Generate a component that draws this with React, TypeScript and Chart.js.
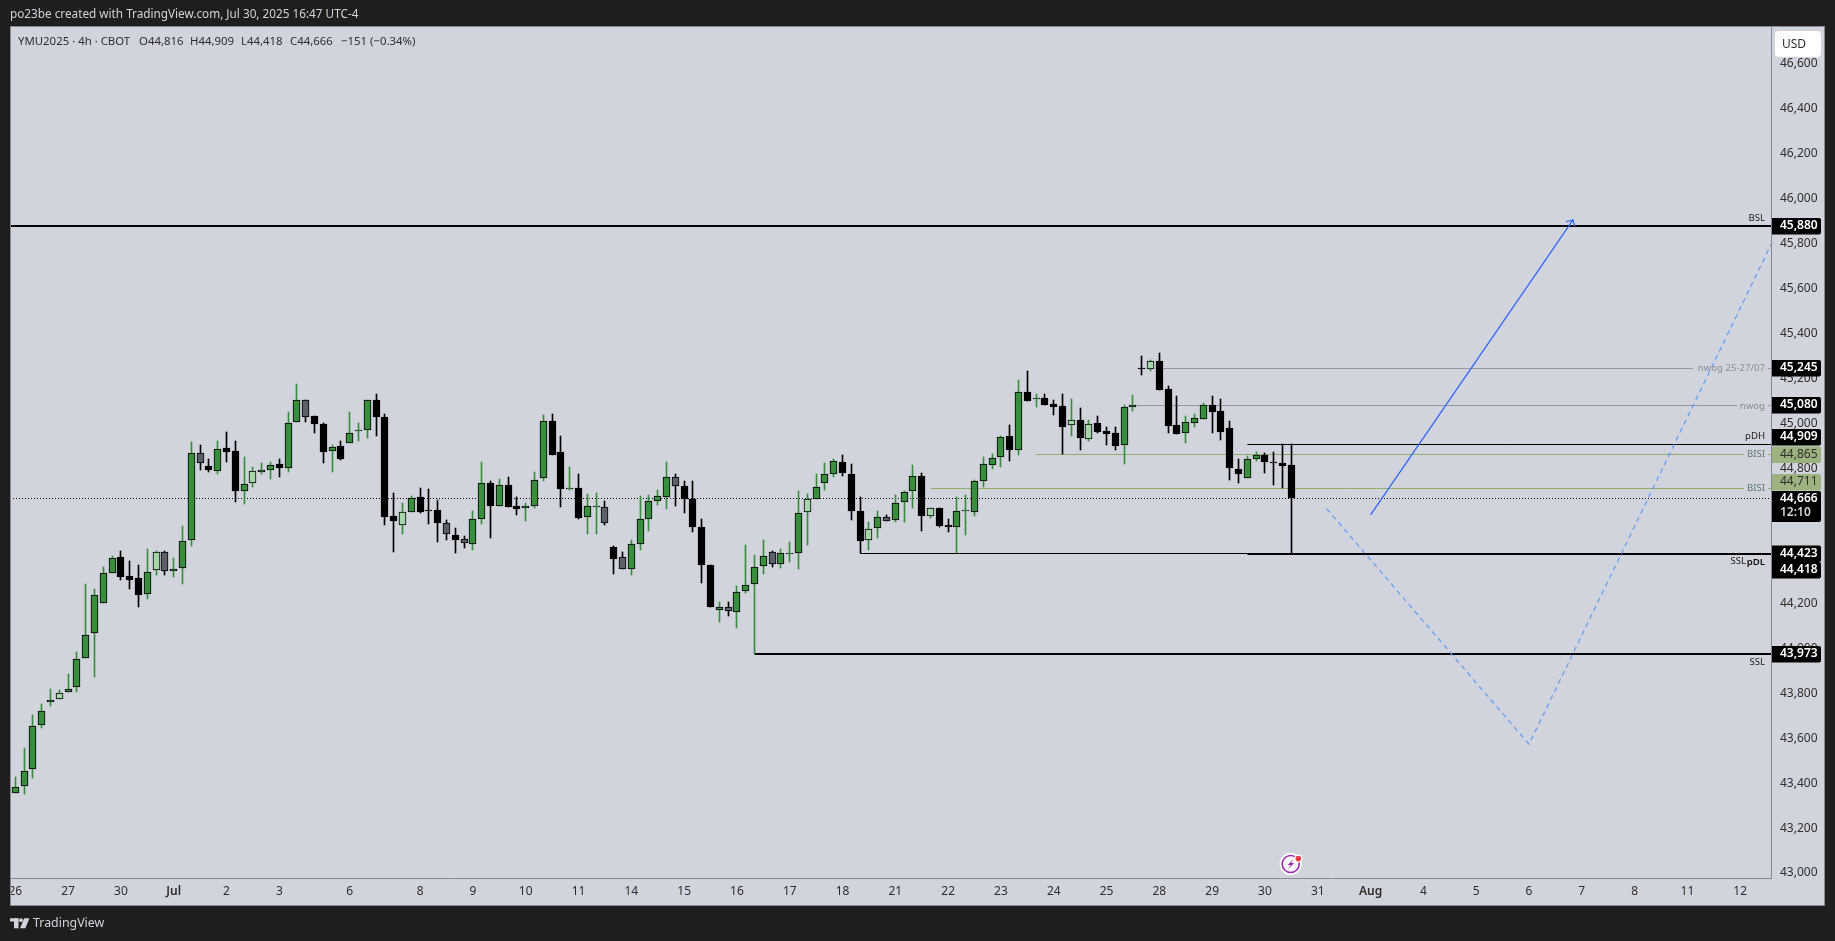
import React, { useEffect, useRef } from "react";
import { Chart, registerables } from "chart.js";

Chart.register(...registerables);

const highs = [
  43426,43555,43701,43750,43817,43814,43884,43982,44284,44262,
  44360,44410,44432,44388,44370,44440,44431,44431,44400,44542,
  44916,44902,44840,44920,44960,44920,44849,44805,44822,44827,
  44840,45049,45174,45106,45031,45000,44902,44920,45049,45000,
  45106,45129,45040,44689,44644,44676,44711,44707,44658,44569,
  44533,44498,44609,44827,44742,44751,44760,44671,44644,44782,
  45036,45040,44942,44805,44773,44684,44689,44653,44453,44426,
  44480,44675,44680,44702,44827,44773,44742,44742,44573,44369,
  44204,44204,44275,44458,44413,44480,44431,44440,44471,44698,
  44684,44773,44822,44840,44858,44818,44671,44560,44609,44591,
  44680,44698,44813,44778,44622,44622,44573,44671,44680,44747,
  44849,44862,44942,44991,45192,45232,45129,45129,45103,45129,
  45107,45067,45014,45031,44982,44982,45080,45125,45298,45280,
  45312,45165,45120,45031,45040,45089,45120,45107,45009,44840,
  44853,44871,44867,44871,44909,44909,
];
const bodyTops = [
  43384,43455,43655,43722,43771,43802,43820,43953,44060,44238,
  44336,44403,44404,44320,44311,44340,44426,44426,44354,44478,
  44870,44870,44809,44888,44889,44876,44732,44790,44791,44816,
  44818,45000,45106,45106,45031,44996,44896,44898,44959,44971,
  45106,45106,45027,44587,44607,44670,44671,44615,44613,44555,
  44502,44484,44573,44733,44733,44727,44724,44631,44634,44750,
  45009,45009,44871,44711,44711,44631,44631,44627,44449,44404,
  44462,44573,44653,44675,44760,44760,44720,44662,44538,44369,
  44185,44185,44251,44283,44363,44412,44429,44422,44422,44600,
  44662,44718,44773,44831,44827,44773,44609,44529,44582,44582,
  44644,44693,44765,44765,44622,44622,44547,44609,44613,44742,
  44818,44845,44938,44942,45138,45138,45112,45112,45085,45076,
  45014,45014,44996,45000,44965,44956,45071,45080,45245,45276,
  45276,45152,44991,45005,45022,45080,45080,45054,44978,44796,
  44840,44858,44858,44827,44822,44816,
];
const bodyBottoms = [
  43354,43385,43461,43657,43759,43772,43804,43826,43955,44066,
  44200,44333,44318,44305,44238,44240,44346,44342,44342,44355,
  44480,44822,44791,44787,44874,44701,44698,44733,44782,44791,
  44800,44800,45005,45027,44996,44874,44876,44843,44911,44965,
  44969,45030,44585,44567,44547,44607,44607,44612,44558,44506,
  44483,44466,44462,44573,44634,44631,44627,44621,44622,44631,
  44756,44861,44707,44710,44581,44582,44630,44555,44398,44351,
  44351,44462,44573,44653,44671,44720,44662,44538,44369,44185,
  44168,44164,44159,44253,44284,44364,44373,44373,44420,44422,
  44604,44662,44733,44773,44778,44609,44475,44480,44533,44564,
  44569,44649,44698,44590,44590,44545,44541,44541,44612,44607,
  44742,44813,44849,44883,44880,45101,45110,45083,45074,44985,
  44991,44937,44932,44963,44954,44901,44902,45071,45243,45240,
  45150,44990,44954,44956,45000,45018,45052,44963,44800,44773,
  44756,44840,44827,44825,44812,44666,
];
const lows = [
  43354,43353,43424,43646,43744,43772,43804,43807,43955,43873,
  44200,44333,44305,44265,44185,44220,44327,44327,44318,44287,
  44456,44794,44785,44776,44830,44652,44643,44719,44773,44754,
  44763,44785,45005,45008,44959,44825,44785,44839,44911,44923,
  44937,44945,44550,44429,44510,44607,44603,44554,44474,44483,
  44425,44447,44438,44554,44492,44631,44627,44594,44567,44625,
  44745,44861,44630,44704,44576,44509,44509,44549,44331,44351,
  44327,44438,44523,44638,44621,44634,44603,44518,44292,44185,
  44118,44145,44091,44244,43974,44331,44363,44358,44385,44354,
  44460,44662,44705,44763,44767,44572,44422,44438,44492,44564,
  44563,44563,44625,44523,44581,44541,44518,44422,44505,44590,
  44719,44799,44808,44834,44861,45101,45074,45083,45039,44865,
  44945,44883,44923,44959,44905,44883,44821,45057,45214,45232,
  45147,44959,44954,44914,44985,45018,44959,44928,44747,44736,
  44756,44834,44781,44728,44714,44418,
];
const kinds = (
  "GGGGGLGGGG" + "GGBBBGLNGG" + "GNBGBBGLGG" + "BGGNBBGBGG" + "GBBBLGBBBN" +
  "BNGGBGBBGG" + "GBBGBGGNBN" + "GGGGGNBBBB" + "GNGGGGNGGG" + "LGGGBBBLGN" +
  "GGGBLBBGGG" + "GGGBGBGBBB" + "LBLBBBGGBL" + "BBBGGGBBBB" + "GGBBBB"
).split("");

const dayIndexes = [0,6,12,18,24,30,38,46,52,58,64,70,76,82,88,94,100,106,112,118,124,130,136,142,148,154,160,166,172,178,184,190,196];
const dayLabels = ["26","27","30","Jul","2","3","6","8","9","10","11","14","15","16","17","18","21","22","23","24","25","28","29","30","31","Aug","4","5","6","7","8","11","12"];
const priceTicks = [43000,43200,43400,43600,43800,44000,44200,44400,44600,44800,45000,45200,45400,45600,45800,46000,46200,46400,46600];

const xMin = -0.602;
const xMax = 199.5;

const levelBSL = 45880;
const levelSSLHigh = 44423;
const levelPDL = 44418;
const levelSSLLow = 43973;
const levelPDH = 44909;
const levelBISIUpper = 44865;
const levelBISILower = 44711;
const levelNwogWeek = 45245;
const levelNwog = 45080;
const lastClose = 44666;

const arrowX = [154, 177];
const arrowY = [44593, 45905];
const arrowHeadX = [176.2, 177, 177.2];
const arrowHeadY = [45897, 45905, 45875];
const pathX = [149, 172, 199.6];
const pathY = [44621, 43573, 45803];

const FONT = '"Noto Sans", sans-serif';
const DARK = "#1e1e1e";
const PANEL = "#d1d4dc";
const FRAME = "#868993";
const GREEN = "#388e3c";
const LIGHT = "#a5d6a7";
const SLATE = "#5d606b";
const LEVEL_GREEN = "#8fae6e";
const LEVEL_GREY = "#9598a1";

const fill: Record<string, string> = { G: GREEN, L: LIGHT, N: SLATE, B: "#000000" };
const wick: Record<string, string> = { G: GREEN, L: GREEN, N: "#000000", B: "#000000" };

const level = (from: number, value: number, color: string, width: number, dash: number[] = []) => ({
  type: "line",
  data: [{ x: from, y: value }, { x: xMax, y: value }],
  borderColor: color,
  borderWidth: width,
  borderDash: dash,
  pointRadius: 0,
  order: 5,
  snapLine: true,
});

const pathLine = (xs: number[], ys: number[], color: string, width: number, dash: number[] = []) => ({
  type: "line",
  data: xs.map((x, i) => ({ x, y: ys[i] })),
  borderColor: color,
  borderWidth: width,
  borderDash: dash,
  pointRadius: 0,
  order: 0,
});

const snapPlugin = {
  id: "snap",
  afterDatasetsUpdate(chart: any) {
    chart.data.datasets.forEach((ds: any, i: number) => {
      const meta = chart.getDatasetMeta(i);
      if (meta.type === "bar") {
        meta.data.forEach((el: any) => {
          el.x = Math.floor(el.x) + 0.5;
          el.y = Math.round(el.y);
          el.base = Math.round(el.base);
          if (el.y === el.base) el.base = el.y + 1;
        });
      } else if (ds.snapLine) {
        meta.data.forEach((pt: any) => {
          pt.y = ds.borderWidth === 2 ? Math.round(pt.y) : Math.round(pt.y) + 0.5;
        });
      }
    });
  },
};

const rightRounded = (ctx: CanvasRenderingContext2D, x: number, y: number, w: number, h: number, r: number) => {
  ctx.beginPath();
  ctx.moveTo(x, y);
  ctx.lineTo(x + w - r, y);
  ctx.quadraticCurveTo(x + w, y, x + w, y + r);
  ctx.lineTo(x + w, y + h - r);
  ctx.quadraticCurveTo(x + w, y + h, x + w - r, y + h);
  ctx.lineTo(x, y + h);
  ctx.closePath();
  ctx.fill();
};

const panelPlugin = {
  id: "panel",
  beforeDraw(chart: any) {
    const { ctx, width, height } = chart;
    ctx.save();
    ctx.fillStyle = DARK;
    ctx.fillRect(0, 0, width, height);
    ctx.fillStyle = PANEL;
    ctx.fillRect(10, 27, 1815, 879);
    ctx.restore();
  },
  afterDraw(chart: any) {
    const { ctx } = chart;
    const y = chart.scales.y;
    const py = (v: number) => Math.round(y.getPixelForValue(v));
    ctx.save();

    ctx.fillStyle = DARK;
    ctx.fillRect(0, 27, 10, 879);
    ctx.strokeStyle = FRAME;
    ctx.lineWidth = 1;
    ctx.strokeRect(10.5, 26.5, 1814, 879);

    ctx.textBaseline = "middle";
    ctx.textAlign = "left";

    ctx.font = `11.75px ${FONT}`;
    ctx.fillStyle = PANEL;
    ctx.fillText("po23be created with TradingView.com, Jul 30, 2025 16:47 UTC-4", 10, 15);

    ctx.font = `11.4px ${FONT}`;
    ctx.fillStyle = "#2e2e2e";
    ctx.fillText("YMU2025 · 4h · CBOT", 18, 41.5);
    ctx.fillText("O44,816", 139, 41.5);
    ctx.fillText("H44,909", 190, 41.5);
    ctx.fillText("L44,418", 241, 41.5);
    ctx.fillText("C44,666", 290, 41.5);
    ctx.fillText("−151 (−0.34%)", 341, 41.5);

    const gap = (value: number, fromX: number) => {
      const ly = py(value);
      ctx.fillStyle = PANEL;
      ctx.fillRect(fromX, ly - 1, 1768 - fromX, 3);
    };
    gap(levelBISIUpper, 1744);
    gap(levelBISILower, 1744);
    gap(levelNwog, 1737);
    gap(levelNwogWeek, 1693);

    const tag = (label: string, color: string, right: number, ly: number, bold = false) => {
      ctx.font = `${bold ? "600 " : ""}9.6px ${FONT}`;
      ctx.fillStyle = color;
      ctx.textAlign = "right";
      ctx.fillText(label, right, ly);
    };
    tag("BSL", "#222222", 1765, 218);
    tag("nwog 25-27/07", "#8a8d99", 1765, 368);
    tag("nwog", "#8a8d99", 1765, 406);
    tag("pDH", "#222222", 1765, 436);
    tag("BISI", "#5b7a78", 1765, 454);
    tag("BISI", "#5b7a78", 1765, 488);
    tag("SSL", "#222222", 1746, 561.5);
    tag("pDL", "#111111", 1765, 562.5, true);
    tag("SSL", "#222222", 1765, 662.5);

    const priceTag = (value: number, center: number, bg: string, fg: string) => {
      ctx.fillStyle = bg;
      rightRounded(ctx, 1772, center - 8, 49, 16.5, 2);
      ctx.font = `600 12px ${FONT}`;
      ctx.fillStyle = fg;
      ctx.textAlign = "left";
      ctx.fillText(value.toLocaleString("en-US"), 1780, center);
    };
    priceTag(levelBSL, py(levelBSL), "#000000", "#ffffff");
    priceTag(levelNwogWeek, py(levelNwogWeek), "#000000", "#ffffff");
    priceTag(levelNwog, py(levelNwog), "#000000", "#ffffff");
    priceTag(levelPDH, 437, "#000000", "#ffffff");
    ctx.fillStyle = "#9db37f";
    rightRounded(ctx, 1772, 446.5, 49, 16.5, 2);
    rightRounded(ctx, 1772, 474, 49, 16.5, 2);
    ctx.font = `12px ${FONT}`;
    ctx.fillStyle = "#2e2e2e";
    ctx.textAlign = "left";
    ctx.fillText(levelBISIUpper.toLocaleString("en-US"), 1780, 454.5);
    ctx.fillText(levelBISILower.toLocaleString("en-US"), 1780, 482);

    ctx.fillStyle = "#000000";
    rightRounded(ctx, 1772, 491, 49, 31, 2);
    ctx.font = `600 12px ${FONT}`;
    ctx.fillStyle = "#ffffff";
    ctx.fillText(lastClose.toLocaleString("en-US"), 1780, 498.7);
    ctx.fillStyle = PANEL;
    ctx.fillText("12:10", 1780, 512.7);

    priceTag(levelSSLHigh, 553.5, "#000000", "#ffffff");
    priceTag(levelPDL, 570, "#000000", "#ffffff");
    priceTag(levelSSLLow, py(levelSSLLow), "#000000", "#ffffff");

    ctx.fillStyle = "#ffffff";
    ctx.beginPath();
    ctx.roundRect(1775, 31, 46, 26, 4);
    ctx.fill();
    ctx.font = `12px ${FONT}`;
    ctx.fillStyle = "#2e2e2e";
    ctx.textAlign = "center";
    ctx.fillText("USD", 1794, 44.5);

    const cx = 1290.7;
    const cy = 864;
    ctx.fillStyle = "#ffffff";
    ctx.beginPath();
    ctx.arc(cx, cy, 11, 0, Math.PI * 2);
    ctx.fill();
    ctx.strokeStyle = "#9c27b0";
    ctx.lineWidth = 1.6;
    ctx.beginPath();
    ctx.arc(cx, cy, 8.5, 0, Math.PI * 2);
    ctx.stroke();
    ctx.fillStyle = "#9c27b0";
    ctx.beginPath();
    ctx.moveTo(cx + 3, cy - 5);
    ctx.lineTo(cx - 3, cy + 1);
    ctx.lineTo(cx, cy + 1);
    ctx.lineTo(cx - 3, cy + 5.5);
    ctx.lineTo(cx + 3.5, cy - 1);
    ctx.lineTo(cx + 0.5, cy - 1);
    ctx.closePath();
    ctx.fill();
    ctx.fillStyle = "#ffffff";
    ctx.beginPath();
    ctx.arc(cx + 7.6, cy - 5.4, 4, 0, Math.PI * 2);
    ctx.fill();
    ctx.fillStyle = "#f23645";
    ctx.beginPath();
    ctx.arc(cx + 7.6, cy - 5.4, 2.8, 0, Math.PI * 2);
    ctx.fill();

    ctx.fillStyle = PANEL;
    ctx.fillRect(10, 918.3, 8.5, 3.2);
    ctx.fillRect(14, 918.3, 4.5, 10);
    ctx.beginPath();
    ctx.arc(21, 920.2, 1.9, 0, Math.PI * 2);
    ctx.fill();
    ctx.beginPath();
    ctx.moveTo(24.2, 918.3);
    ctx.lineTo(29.4, 918.3);
    ctx.lineTo(25.4, 928.3);
    ctx.lineTo(20, 928.3);
    ctx.closePath();
    ctx.fill();
    ctx.font = `12.4px ${FONT}`;
    ctx.textAlign = "left";
    ctx.fillText("TradingView", 33, 923);

    ctx.restore();
  },
};

export default function App() {
  const ref = useRef<HTMLCanvasElement | null>(null);

  useEffect(() => {
    if (!ref.current) return;
    const bars = kinds.map((_, i) => i);
    const chart = new Chart(ref.current, {
      type: "bar",
      data: {
        datasets: [
          {
            type: "bar",
            data: bars.map((i) => ({ x: i, y: [lows[i], highs[i]] })),
            backgroundColor: kinds.map((k) => wick[k]),
            borderWidth: 0,
            barThickness: 1,
            grouped: false,
            order: 3,
          },
          {
            type: "bar",
            data: bars.map((i) => ({ x: i, y: [bodyBottoms[i], bodyTops[i]] })),
            backgroundColor: kinds.map((k) => fill[k]),
            borderColor: "#000000",
            borderWidth: 1,
            borderSkipped: false,
            barThickness: 7,
            grouped: false,
            order: 2,
          },
          level(xMin, levelBSL, "#000000", 2),
          level(96, levelSSLHigh, "#000000", 1),
          level(140, levelPDL, "#000000", 2),
          level(84, levelSSLLow, "#000000", 2),
          level(140, levelPDH, "#000000", 1),
          level(116, levelBISIUpper, LEVEL_GREEN, 1),
          level(104, levelBISILower, LEVEL_GREEN, 1),
          level(130, levelNwogWeek, LEVEL_GREY, 1),
          level(127, levelNwog, LEVEL_GREY, 1),
          level(xMin, lastClose, "#000000", 1, [1, 2]),
          pathLine(arrowX, arrowY, "#2962ff", 1.2),
          pathLine(arrowHeadX, arrowHeadY, "#2962ff", 1.2),
          pathLine(pathX, pathY, "#5b9cf6", 1.2, [5, 4]),
        ] as any,
      },
      options: {
        responsive: false,
        animation: false,
        devicePixelRatio: 1,
        layout: { padding: { left: 10, top: 27, right: 0, bottom: 0 } },
        plugins: { legend: { display: false }, tooltip: { enabled: false } },
        scales: {
          x: {
            type: "linear",
            position: "bottom",
            offset: false,
            min: xMin,
            max: xMax,
            grid: { display: false, drawTicks: false },
            border: { color: FRAME },
            afterBuildTicks: (axis: any) => {
              axis.ticks = dayIndexes.map((value) => ({ value }));
            },
            afterFit: (axis: any) => {
              axis.height = 63;
            },
            ticks: {
              autoSkip: false,
              maxRotation: 0,
              minRotation: 0,
              padding: 6,
              color: "#2e2e2e",
              font: (c: any) => {
                const label = dayLabels[dayIndexes.indexOf(c.tick?.value)];
                return { family: FONT, size: 12, weight: label === "Jul" || label === "Aug" ? 600 : 400 };
              },
              callback: (value: any) => dayLabels[dayIndexes.indexOf(Number(value))],
            },
          },
          y: {
            type: "linear",
            position: "right",
            min: 42978,
            max: 46763,
            grid: { display: false, drawTicks: false },
            border: { color: FRAME },
            afterBuildTicks: (axis: any) => {
              axis.ticks = priceTicks.map((value) => ({ value }));
            },
            afterFit: (axis: any) => {
              axis.width = 64;
            },
            ticks: {
              padding: 9,
              crossAlign: "near",
              color: "#2e2e2e",
              font: { family: FONT, size: 12 },
              callback: (value: any) => Number(value).toLocaleString("en-US"),
            },
          },
        },
      } as any,
      plugins: [panelPlugin, snapPlugin],
    });
    return () => chart.destroy();
  }, []);

  return (
    <div style={{ position: "fixed", left: 0, top: 0, width: 1835, height: 941, background: DARK }}>
      <canvas ref={ref} width={1835} height={941} style={{ display: "block", width: 1835, height: 941 }} />
    </div>
  );
}
